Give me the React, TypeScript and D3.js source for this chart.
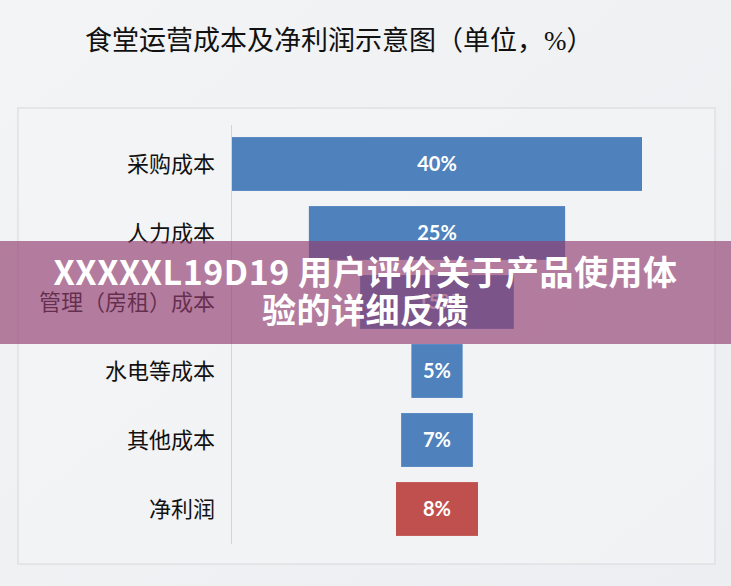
import { scaleBand, scaleLinear } from "d3";

const WIDTH = 731;
const HEIGHT = 586;

const TITLE = "食堂运营成本及净利润示意图（单位，%）";
const categories = ["采购成本", "人力成本", "管理（房租）成本", "水电等成本", "其他成本", "净利润"];
const values = [40, 25, 15, 5, 7, 8];
const barColors = ["#4f81bd", "#4f81bd", "#4f81bd", "#4f81bd", "#4f81bd", "#c0504d"];
const BANNER_LINES = ["XXXXXL19D19 用户评价关于产品使用体", "验的详细反馈"];

const FRAME = { left: 18, top: 108, right: 715, bottom: 564 };
const AXIS_X = 232;

export default function App() {
  const y = scaleBand<string>()
    .domain(categories)
    .range([129.5, 543.5])
    .paddingInner(0.22)
    .paddingOuter(0.11);

  // bars are centred on the plot, so half the value goes each side
  const x = scaleLinear().domain([-20, 20]).range([AXIS_X, 642]);

  return (
    <svg
      width={WIDTH}
      height={HEIGHT}
      style={{ position: "absolute", left: 0, top: 0 }}
    >
      <defs>
        <linearGradient id="bg" x1="0" y1="0" x2="1" y2="1">
          <stop offset="0%" stopColor="#f3f4f5" />
          <stop offset="100%" stopColor="#eceef1" />
        </linearGradient>
      </defs>
      <rect width={WIDTH} height={HEIGHT} fill="url(#bg)" />

      <text
        x={85}
        y={50}
        fontSize={27}
        fontFamily="'Liberation Serif', 'Noto Sans CJK SC', serif"
        fill="#111"
      >
        {TITLE}
      </text>

      <rect
        x={FRAME.left}
        y={FRAME.top}
        width={FRAME.right - FRAME.left}
        height={FRAME.bottom - FRAME.top}
        fill="#f4f5f6"
        fillOpacity={0.6}
        stroke="#d6d8da"
        strokeWidth={1}
      />

      <line
        x1={AXIS_X - 0.5}
        x2={AXIS_X - 0.5}
        y1={125}
        y2={544}
        stroke="#d4d4d4"
        strokeWidth={1}
      />

      {categories.map((c, i) => {
        const yy = y(c) ?? 0;
        const bw = y.bandwidth();
        const v = values[i];
        const x0 = x(-v / 2);
        const x1 = x(v / 2);
        return (
          <g key={c}>
            <rect x={x0} y={yy} width={x1 - x0} height={bw} fill={barColors[i]} />
            <text
              x={(x0 + x1) / 2}
              y={yy + bw / 2 + 7}
              textAnchor="middle"
              fontSize={20}
              fontWeight="bold"
              fontFamily="Lato, 'Open Sans', sans-serif"
              fill="#fff"
            >
              {`${v}%`}
            </text>
            <text
              x={215}
              y={yy + bw / 2 + 8}
              textAnchor="end"
              fontSize={22}
              fontFamily="'Liberation Serif', 'Noto Sans CJK SC', serif"
              fill="#111"
            >
              {c}
            </text>
          </g>
        );
      })}

      <rect x={0} y={241} width={WIDTH} height={103} fill="rgb(145,62,112)" fillOpacity={0.66} />
      {BANNER_LINES.map((t, i) => (
        <text
          key={t}
          x={WIDTH / 2}
          y={285 + i * 38}
          textAnchor="middle"
          fontSize={34}
          letterSpacing={0.5}
          fontWeight="bold"
          fontFamily="'Noto Sans CJK SC', 'Noto Sans', sans-serif"
          fill="#fff"
        >
          {t}
        </text>
      ))}
    </svg>
  );
}
